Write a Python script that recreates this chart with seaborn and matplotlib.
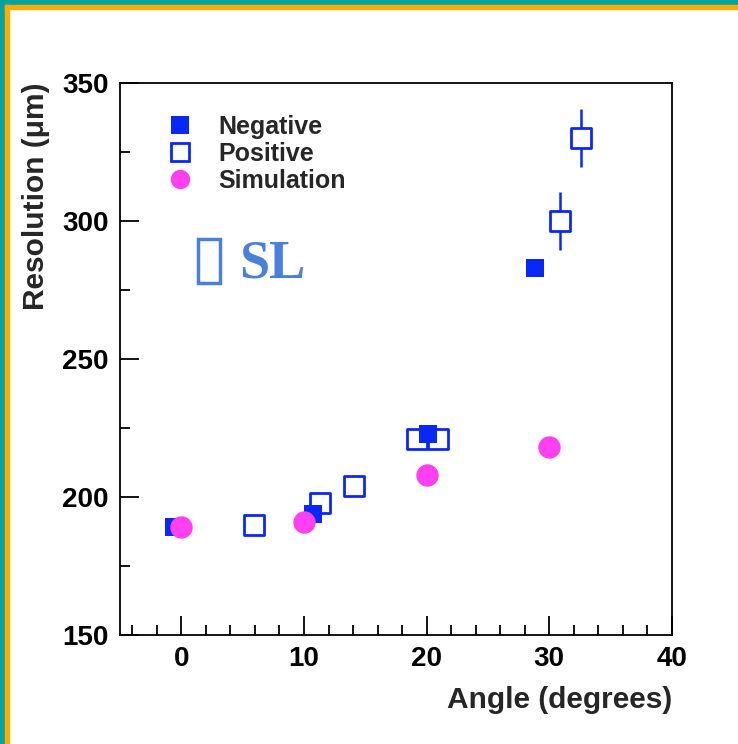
import matplotlib
matplotlib.use("Agg")
import matplotlib.pyplot as plt
import matplotlib.patches as mpatches
from matplotlib.ticker import MultipleLocator
import seaborn as sns
import pandas as pd

sns.set_theme(style="white")
plt.rcParams["font.family"] = ["Liberation Sans", "DejaVu Sans"]

# Measured resolution vs. track angle
neg_angle = [-0.6, 10.7, 20.1, 28.8]
neg_res = [189, 194, 223, 283]

pos_angle = [5.9, 11.3, 14.1, 19.2, 20.9, 30.9, 32.6]
pos_res = [190, 198, 204, 221, 221, 300, 330]
pos_err = [0, 0, 0, 0, 0, 10.5, 10.5]

sim_angle = [0, 10, 20, 30]
sim_res = [189, 191, 208, 218]

blue = "#0a28f5"
magenta = "#ff40f0"

neg = pd.DataFrame({"angle": neg_angle, "res": neg_res})
pos = pd.DataFrame({"angle": pos_angle, "res": pos_res, "err": pos_err})
sim = pd.DataFrame({"angle": sim_angle, "res": sim_res})

fig = plt.figure(figsize=(7.38, 7.44), dpi=100)
ax = fig.add_axes([120 / 738, 1 - 635 / 744, 552 / 738, 552 / 744])

# error bars on the positive points
for a, r, e in zip(pos_angle, pos_res, pos_err):
    if e > 0:
        ax.errorbar(a, r, yerr=e, fmt="none", ecolor=blue, elinewidth=1.8,
                    capsize=0, zorder=2)

sns.scatterplot(data=pos, x="angle", y="res", ax=ax, marker="s", s=190,
                facecolor="white", edgecolor=blue, linewidth=2.0, zorder=3)
sns.scatterplot(data=neg, x="angle", y="res", ax=ax, marker="s", s=185,
                color=blue, edgecolor=blue, linewidth=0, zorder=4)
sns.scatterplot(data=sim, x="angle", y="res", ax=ax, marker="o", s=260,
                color=magenta, edgecolor=magenta, linewidth=0, zorder=5)

ax.set_xlim(-5, 40)
ax.set_ylim(150, 350)
ax.xaxis.set_major_locator(MultipleLocator(10))
ax.xaxis.set_minor_locator(MultipleLocator(2))
ax.yaxis.set_major_locator(MultipleLocator(50))
ax.yaxis.set_minor_locator(MultipleLocator(25))
ax.tick_params(axis="both", which="both", direction="in", colors="black",
               labelsize=20, width=1.3, top=False, right=False,
               bottom=True, left=True)
ax.tick_params(axis="both", which="major", length=14, pad=8)
ax.tick_params(axis="both", which="minor", length=7)
for lbl in ax.get_xticklabels() + ax.get_yticklabels():
    lbl.set_fontweight("bold")
for s in ax.spines.values():
    s.set_visible(True)
    s.set_color("black")
    s.set_linewidth(1.3)

ax.set_xlabel("Angle (degrees)", fontsize=21.5, fontweight="bold", loc="right",
              labelpad=10)
ax.set_ylabel("Resolution (\u03bcm)", fontsize=21.5, fontweight="bold", loc="top",
              labelpad=9)

# legend
handles = [
    plt.Line2D([], [], marker="s", linestyle="none", markersize=12.5,
               markerfacecolor=blue, markeredgecolor=blue, markeredgewidth=0),
    plt.Line2D([], [], marker="s", linestyle="none", markersize=12.5,
               markerfacecolor="white", markeredgecolor=blue, markeredgewidth=2),
    plt.Line2D([], [], marker="o", linestyle="none", markersize=14,
               markerfacecolor=magenta, markeredgecolor=magenta, markeredgewidth=0),
]
leg = ax.legend(handles, ["Negative", "Positive", "Simulation"],
                loc="upper left", bbox_to_anchor=(0.028, 0.979), frameon=False,
                handletextpad=0.5, labelspacing=0.12, borderpad=0.3,
                prop={"family": "Liberation Sans", "weight": "bold", "size": 18})

# "SL" tag with its outlined box
sl_color = "#4a80dc"
fig.patches.append(mpatches.Rectangle((198 / 738, 1 - 283 / 744), 22 / 738, 44 / 744,
                                      transform=fig.transFigure, fill=False,
                                      edgecolor=sl_color, linewidth=2.5))
fig.text(239 / 738, 1 - 278 / 744, "SL", fontsize=39, fontweight="bold",
         family=["Liberation Serif", "DejaVu Serif"], color=sl_color,
         ha="left", va="baseline")

# frame along top and left edges
teal = "#08a39e"
orange = "#ffab00"
fig.patches.append(mpatches.Rectangle((0, 1 - 5 / 744), 1, 5 / 744,
                                      transform=fig.transFigure, color=teal, zorder=0))
fig.patches.append(mpatches.Rectangle((0, 0), 5 / 738, 1,
                                      transform=fig.transFigure, color=teal, zorder=0))
fig.patches.append(mpatches.Rectangle((5 / 738, 1 - 9 / 744), 1, 4 / 744,
                                      transform=fig.transFigure, color=orange, zorder=0))
fig.patches.append(mpatches.Rectangle((5 / 738, 0), 4 / 738, 1 - 5 / 744,
                                      transform=fig.transFigure, color=orange, zorder=0))

fig.savefig("out.png", dpi=100, facecolor="white")
